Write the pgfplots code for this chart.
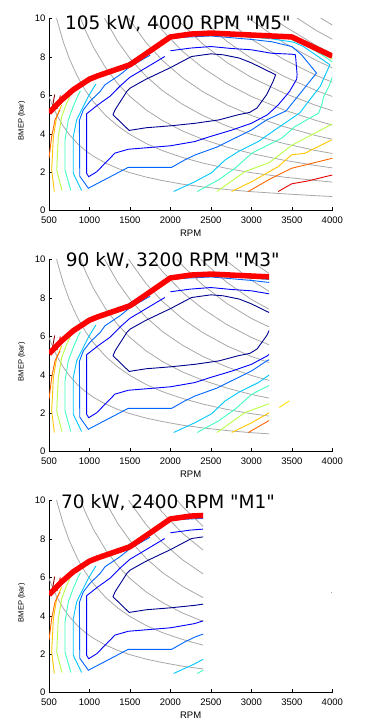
\documentclass[border=0pt]{standalone}
\usepackage{pgfplots}
\pgfplotsset{compat=1.18}
\usepackage{fontspec}
\setmainfont{Liberation Sans}
\newfontfamily\titlefont{DejaVu Sans}

\definecolor{cL1}{rgb}{0,0,0.56}
\definecolor{cL2}{rgb}{0,0,1}
\definecolor{cL3}{rgb}{0,0.4,1}
\definecolor{cL4}{rgb}{0,0.78,1}
\definecolor{cL5}{rgb}{0.25,1,0.75}
\definecolor{cL6}{rgb}{0.72,1,0.28}
\definecolor{cL7}{rgb}{1,0.78,0}
\definecolor{cL8}{rgb}{1,0.4,0}
\definecolor{cL9}{rgb}{0.9,0,0}
\definecolor{cL10}{rgb}{0.55,0,0}
\definecolor{isoP}{rgb}{0.66,0.66,0.66}

\tikzset{
  lvA/.style={draw=cL1,line width=0.9pt},
  lvB/.style={draw=cL2,line width=0.9pt},
  lvC/.style={draw=cL3,line width=0.9pt},
  lvD/.style={draw=cL4,line width=0.9pt},
  lvE/.style={draw=cL5,line width=0.9pt},
  lvF/.style={draw=cL6,line width=0.9pt},
  lvG/.style={draw=cL7,line width=0.9pt},
  lvH/.style={draw=cL8,line width=0.9pt},
  lvI/.style={draw=cL9,line width=0.9pt},
  lvJ/.style={draw=cL10,line width=0.9pt},
  isoline/.style={draw=isoP,line width=0.8pt},
  fullload/.style={draw=red,line width=5.5pt,line join=round},
  titlenode/.style={anchor=base west,inner sep=0pt,font=\titlefont\fontsize{18.5}{20}\selectfont},
}

\pgfplotsset{
 mapframe/.style={
  scale only axis, width=283.3pt, height=192pt,
  xmin=500, xmax=4000, ymin=0, ymax=10,
  axis x line*=bottom, axis y line*=left,
  axis line style={black, line width=0.7pt},
  xtick={500,1000,...,4000}, ytick={0,2,...,10},
  tick align=inside, major tick length=3.5pt,
  tick style={black, line width=0.6pt},
  tick label style={font=\fontsize{9.5}{11}\selectfont},
  xticklabel style={yshift=-3pt},
  /pgf/number format/assume math mode=true,
  /pgf/number format/1000 sep={},
  xlabel={RPM}, ylabel={BMEP (bar)},
  x label style={at={(axis description cs:0.5,-0.135)}, anchor=base, font=\fontsize{9.5}{11}\selectfont},
  y label style={at={(axis description cs:-0.0964,0.469)}, anchor=center, font=\fontsize{7.5}{9}\selectfont},
  no markers, clip=true,
 },
 mapdata/.style={scale only axis, height=192pt, xmin=500, ymin=0, ymax=10, hide axis, no markers, clip=true},
}

\newcommand{\isolines}{%
\addplot[isoline] coordinates {(500,5.95)(550,5.41)(600,4.96)(675,4.41)(750,3.97)(850,3.5)(950,3.13)(1050,2.83)(1200,2.48)(1350,2.2)(1500,1.98)(1700,1.75)(1900,1.57)(2150,1.38)(2400,1.24)(2700,1.1)(3000,0.99)(3400,0.88)(3800,0.78)(4000,0.74)};
\addplot[isoline] coordinates {(550,10.82)(600,9.92)(675,8.81)(750,7.93)(850,7.0)(950,6.26)(1050,5.67)(1200,4.96)(1350,4.41)(1500,3.97)(1700,3.5)(1900,3.13)(2150,2.77)(2400,2.48)(2700,2.2)(3000,1.98)(3400,1.75)(3800,1.57)(4000,1.49)};
\addplot[isoline] coordinates {(850,10.5)(900,9.92)(950,9.39)(1050,8.5)(1200,7.44)(1350,6.61)(1500,5.95)(1700,5.25)(1900,4.7)(2150,4.15)(2400,3.72)(2700,3.31)(3000,2.98)(3400,2.63)(3800,2.35)(4000,2.23)};
\addplot[isoline] coordinates {(1050,11.33)(1150,10.35)(1200,9.92)(1350,8.81)(1500,7.93)(1700,7.0)(1900,6.26)(2150,5.54)(2400,4.96)(2700,4.41)(3000,3.97)(3400,3.5)(3800,3.13)(4000,2.98)};
\addplot[isoline] coordinates {(1400,10.63)(1500,9.92)(1700,8.75)(1900,7.83)(2150,6.92)(2400,6.2)(2700,5.51)(3000,4.96)(3400,4.38)(3800,3.91)(4000,3.72)};
\addplot[isoline] coordinates {(1700,10.5)(1900,9.39)(2150,8.3)(2400,7.44)(2700,6.61)(3000,5.95)(3400,5.25)(3800,4.7)(4000,4.46)};
\addplot[isoline] coordinates {(1950,10.68)(2150,9.69)(2400,8.68)(2700,7.71)(3000,6.94)(3400,6.13)(3800,5.48)(4000,5.21)};
\addplot[isoline] coordinates {(2250,10.58)(2400,9.92)(2700,8.81)(3000,7.93)(3400,7.0)(3800,6.26)(4000,5.95)};
\addplot[isoline] coordinates {(2550,10.5)(2700,9.92)(3000,8.93)(3400,7.88)(3800,7.05)(4000,6.69)};
\addplot[isoline] coordinates {(2850,10.44)(3000,9.92)(3400,8.75)(3800,7.83)(4000,7.44)};
\addplot[isoline] coordinates {(3150,10.39)(3400,9.63)(3800,8.61)(4000,8.18)};
\addplot[isoline] coordinates {(3450,10.35)(3800,9.39)(4000,8.93)};
\addplot[isoline] coordinates {(3750,10.31)(4000,9.67)};
}

\newcommand{\contours}{%
% level 1 (navy), closed
\addplot[lvA] coordinates {(1290,5.0)(1320,5.28)(1460,6.2)(1500,6.38)(1700,6.85)(2000,7.45)(2260,8.03)(2500,8.17)(2650,8.12)(2850,7.95)(3000,7.7)(3300,7.08)(3270,6.75)(3190,6.05)(3070,5.35)(2980,5.12)(2840,5.0)(2600,4.73)(2300,4.55)(2000,4.42)(1700,4.32)(1490,4.18)(1290,5.0)};
% level 2 (blue)
\addplot[lvB] coordinates {(1930,8.03)(1700,7.45)(1500,6.95)(1380,6.5)(1250,5.95)(1100,5.5)(965,5.05)(965,1.95)(990,1.77)(1090,2.03)(1315,3.0)(1480,3.2)(2000,3.38)(2300,3.6)(2490,3.86)(2760,4.2)(3000,4.55)(3200,5.0)(3330,5.5)(3470,6.2)(3560,6.85)(3565,7.1)(3545,8.12)(3500,8.15)(3250,8.2)(3000,8.38)(2750,8.45)(2500,8.55)(2250,8.47)(2000,8.33)};
% level 3
\addplot[lvC] coordinates {(1750,8.1)(1500,7.5)(1377,7.08)(1192,6.56)(1130,6.2)(1006,5.7)(924,5.25)(875,4.7)(880,1.8)(986,1.17)(1480,2.26)(2016,2.26)(2180,2.65)(2303,2.9)(2572,3.31)(2798,3.78)(3004,4.21)(3189,4.73)(3430,5.2)(3805,7.17)(3620,8.12)(3500,8.55)(3250,8.8)(3000,8.92)(2500,9.1)(2250,9.05)(2050,9.0)};
% level 4
\addplot[lvD] coordinates {(2040,1.0)(2303,1.51)(2510,1.98)(2674,2.64)(2839,3.08)(3086,3.6)(3292,4.21)(3415,4.56)(3600,5.1)(3720,5.77)(3850,6.47)(3970,7.6)(3800,8.1)(3640,8.56)(3520,8.78)(3250,8.95)(3000,9.05)(2800,9.12)};
\addplot[lvD] coordinates {(903,1.05)(800,1.95)(800,3.86)(842,4.73)(924,5.43)(986,5.95)(1047,6.38)(1080,6.6)};
\addplot[lvD] coordinates {(1480,7.7)(1580,7.95)};
% level 5
\addplot[lvE] coordinates {(2330,1.0)(2592,1.6)(2798,2.21)(3004,2.99)(3375,3.78)(3540,4.38)(3830,5.08)(3870,5.5)(3890,5.9)(3960,6.5)(4000,6.95)};
\addplot[lvE] coordinates {(770,1.05)(698,2.12)(698,3.69)(738,4.73)(800,5.43)(862,6.04)(890,6.25)};
\addplot[lvE] coordinates {(3500,8.9)(3700,8.55)(3900,8.05)(4000,7.75)};
% level 6
\addplot[lvF] coordinates {(2575,1.0)(2921,2.04)(3220,2.5)(3498,3.4)(4000,4.52)};
\addplot[lvF] coordinates {(660,1.05)(595,2.12)(615,3.86)(657,4.9)(719,5.6)(760,5.95)};
\addplot[lvF] coordinates {(3800,8.4)(4000,7.9)};
% level 7
\addplot[lvG] coordinates {(2757,1.0)(3004,1.51)(3333,2.3)(3498,2.91)(3662,2.99)(3992,3.69)};
\addplot[lvG] coordinates {(566,1.0)(533,2.12)(554,3.86)(595,4.9)(657,5.51)};
% level 8
\addplot[lvH] coordinates {(2962,1.0)(3209,1.6)(3498,2.21)(4000,2.73)};
\addplot[lvH] coordinates {(500,2.73)(533,3.86)(574,4.73)(636,5.25)};
% level 9
\addplot[lvI] coordinates {(3333,1.0)(3498,1.4)(3700,1.55)(4000,1.86)};
\addplot[lvI] coordinates {(600,5.3)(640,6.0)};
% level 10
\addplot[lvJ] coordinates {(530,5.1)(570,6.05)};
}

\newcommand{\fullload}{%
\addplot[fullload] coordinates {(500,5.1)(650,5.75)(800,6.3)(1000,6.85)(1100,7.02)(1500,7.6)(2000,9.05)(2250,9.2)(2500,9.25)(3000,9.15)(3500,9.05)(4000,8.05)};
}

\begin{document}
\begin{tikzpicture}
\useasboundingbox (0,0) rectangle (367pt,723pt);
% ---------- panel 1 ----------
\begin{axis}[mapframe, at={(49pt,512.3pt)}, anchor=south west]
\isolines
\contours
\fullload
\end{axis}
\node[titlenode] at (65pt,693.5pt) {105 kW, 4000 RPM "M5"};
% ---------- panel 2 ----------
\begin{axis}[mapframe, at={(49pt,271.3pt)}, anchor=south west]
\addplot[draw={rgb,1:red,1;green,0.9;blue,0}, line width=0.9pt] coordinates {(3345,2.3)(3470,2.65)};
\end{axis}
\begin{axis}[mapdata, at={(49pt,271.3pt)}, anchor=south west, width=220.2pt, xmax=3220]
\isolines
\contours
\fullload
\end{axis}
\node[titlenode] at (65.7pt,456pt) {90 kW, 3200 RPM "M3"};
% ---------- panel 3 ----------
\begin{axis}[mapframe, at={(49pt,30.3pt)}, anchor=south west]
\addplot[isoline] coordinates {(3985,5.2)(4000,5.2)};
\end{axis}
\begin{axis}[mapdata, at={(49pt,30.3pt)}, anchor=south west, width=154.2pt, xmax=2405]
\isolines
\contours
\fullload
\end{axis}
\node[titlenode] at (61pt,214pt) {70 kW, 2400 RPM "M1"};
\end{tikzpicture}
\end{document}
